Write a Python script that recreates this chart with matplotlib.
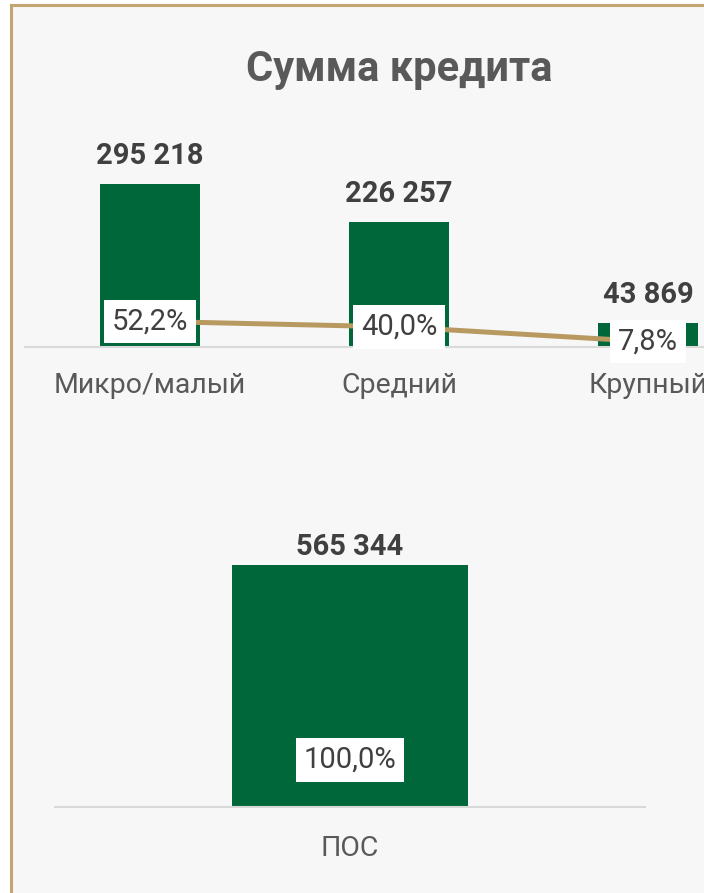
import matplotlib
matplotlib.use("Agg")
import matplotlib.pyplot as plt
from matplotlib.patches import Rectangle

plt.rcParams['font.family'] = ['Roboto', 'DejaVu Sans']

# ---- data ----
categories = ["Микро/малый", "Средний", "Крупный"]
amounts = [295218, 226257, 43869]
shares = [0.522, 0.400, 0.078]

total_category = ["ПОС"]
total_amount = [565344]
total_share = [1.0]

title = "Сумма кредита"

# ---- styles ----
W, H = 704, 893
DPI = 100
GREEN = "#00673a"
GOLD = "#b89a60"
BORDER = "#c3a571"
BG = "#f7f7f7"
AXIS = "#d9d9d9"
VAL_C = "#404040"
CAT_C = "#595959"


def fx(px):
    return px / W


def fy(py):
    return (H - py) / H


def fmt_num(v):
    return f"{v:,}".replace(",", " ")


def fmt_pct(v):
    return f"{v * 100:.1f}%".replace(".", ",")


fig = plt.figure(figsize=(W / DPI, H / DPI), dpi=DPI, facecolor="white")
fig.patches.append(Rectangle((fx(11), -0.1), 2.0, fy(5) + 0.1, transform=fig.transFigure,
                             facecolor=BG, edgecolor=BORDER, linewidth=2.2, zorder=-10))

fig.text(fx(399), fy(70), title, ha="center", va="center", fontsize=30,
         fontweight="bold", color=CAT_C)


def make_panel(left, right, bottom, top, cats, vals, pcts, px_per_val, px_per_pct,
               label_off, pct_shift, cat_pad):
    ax = fig.add_axes([fx(left), fy(bottom), fx(right) - fx(left), fy(top) - fy(bottom)])
    ax.set_facecolor("none")
    hpx = bottom - top
    xs = list(range(len(cats)))
    ax.bar(xs, vals, width=0.4, color=GREEN, zorder=2)
    ax.set_xlim(-0.5, len(cats) - 0.5)
    ax.set_ylim(0, hpx / px_per_val)
    for s in ["top", "left", "right"]:
        ax.spines[s].set_visible(False)
    ax.spines["bottom"].set_color(AXIS)
    ax.spines["bottom"].set_linewidth(1.5)
    ax.set_yticks([])
    ax.set_xticks(xs)
    ax.set_xticklabels(cats, fontsize=20.5, color=CAT_C)
    ax.tick_params(axis="x", length=0, pad=cat_pad)
    for x, v in zip(xs, vals):
        ax.annotate(fmt_num(v), (x, v), xytext=(0, label_off), textcoords="offset pixels",
                    ha="center", va="center", fontsize=21, fontweight="bold", color=VAL_C)
    ax2 = ax.twinx()
    ax2.set_facecolor("none")
    ax2.axis("off")
    lo = -pct_shift / px_per_pct
    ax2.set_ylim(lo, lo + hpx / px_per_pct)
    ax2.plot(xs, pcts, color=GOLD, linewidth=3.6, solid_capstyle="butt", zorder=3)
    for x, p in zip(xs, pcts):
        ax2.text(x, p, fmt_pct(p), ha="center", va="center", fontsize=21, color=VAL_C,
                 zorder=4, bbox=dict(boxstyle="square,pad=0.26", facecolor="white",
                                     edgecolor="none"))
    return ax


make_panel(25.5, 772.5, 347, 130, categories, amounts, shares,
           163 / 295218, 45.7, 28, 1.8, 18)
make_panel(55, 645, 807, 520, total_category, total_amount, total_share,
           242 / 565344, 47, 18, 0, 20)

fig.savefig("out.png", dpi=DPI, facecolor="white")
